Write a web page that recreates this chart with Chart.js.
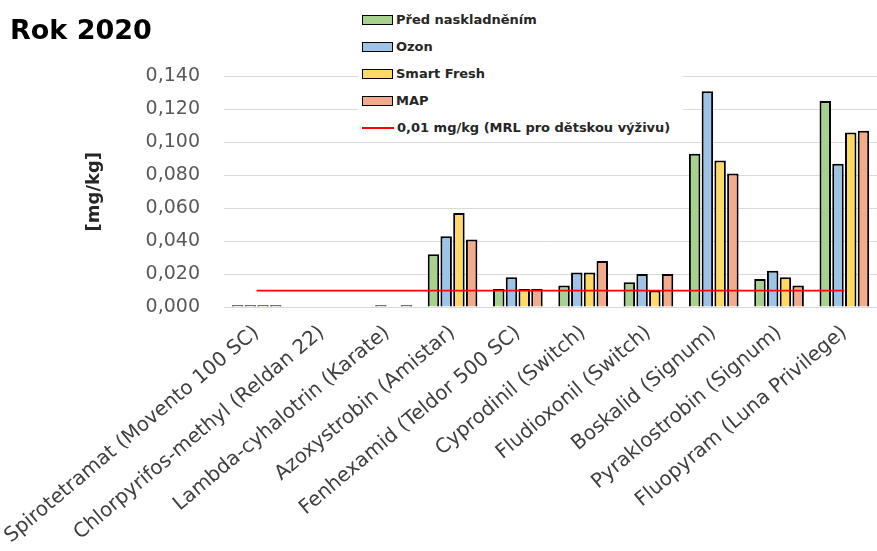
<!DOCTYPE html>
<html>
<head>
<meta charset="utf-8">
<script src="https://cdn.jsdelivr.net/npm/chart.js@4/dist/chart.umd.min.js"></script>
<style>
  body { margin: 0; background: #fff; }
  #wrap { position: relative; width: 877px; height: 551px; }
  #legenda {
    position: absolute; left: 358px; top: 6px; width: 325px; height: 132px;
    background: #fff; font-family: "DejaVu Sans", sans-serif; font-weight: bold;
    font-size: 13px; color: #262626;
  }
  .polozka { position: absolute; left: 4px; height: 14px; line-height: 14px; white-space: nowrap; }
  .box { display: inline-block; width: 29px; height: 8px; border: 1.5px solid #000; vertical-align: middle; margin-right: 3px; position: relative; top: -1px; }
  .cara { display: inline-block; width: 32px; height: 0; border-top: 2px solid #ff0000; vertical-align: middle; margin-right: 3px; position: relative; top: -1px; }
</style>
</head>
<body>
<div id="wrap">
  <canvas id="chart" width="877" height="551"></canvas>
  <div id="legenda"></div>
</div>
<script>
const kategorie = [
  "Spirotetramat (Movento 100 SC)",
  "Chlorpyrifos-methyl (Reldan 22)",
  "Lambda-cyhalotrin (Karate)",
  "Azoxystrobin (Amistar)",
  "Fenhexamid (Teldor 500 SC)",
  "Cyprodinil (Switch)",
  "Fludioxonil (Switch)",
  "Boskalid (Signum)",
  "Pyraklostrobin (Signum)",
  "Fluopyram (Luna Privilege)"
];
const predNaskladnenim = [0.001, 0, 0, 0.032, 0.011, 0.013, 0.015, 0.093, 0.017, 0.125];
const ozon = [0.001, 0, 0.001, 0.043, 0.018, 0.021, 0.020, 0.131, 0.022, 0.087];
const smartFresh = [0.001, 0, 0, 0.057, 0.011, 0.021, 0.010, 0.089, 0.018, 0.106];
const map = [0.001, 0, 0.001, 0.041, 0.011, 0.028, 0.020, 0.081, 0.013, 0.107];
const mrl = [0.01, 0.01, 0.01, 0.01, 0.01, 0.01, 0.01, 0.01, 0.01, 0.01];
const yPopisky = ["0,000", "0,020", "0,040", "0,060", "0,080", "0,100", "0,120", "0,140"];

const canvas = document.getElementById("chart");

function sloupce(nazev, hodnoty, barva) {
  return {
    type: "bar",
    label: nazev,
    data: hodnoty,
    backgroundColor: barva,
    borderColor: "#000000",
    borderWidth: 2,
    barPercentage: 0.9,
    categoryPercentage: 0.78,
    order: 1
  };
}

const data = {
  labels: kategorie,
  datasets: [
    sloupce("Před naskladněním", predNaskladnenim, "#a9d18e"),
    sloupce("Ozon", ozon, "#9dc3e6"),
    sloupce("Smart Fresh", smartFresh, "#ffd966"),
    sloupce("MAP", map, "#f2ac8c"),
    {
      type: "line",
      label: "0,01 mg/kg (MRL pro dětskou výživu)",
      data: mrl,
      borderColor: "#ff0000",
      borderWidth: 1.7,
      pointRadius: 0,
      fill: false,
      order: 0
    }
  ]
};

////////////konfigurace
const config = {
  type: "bar",
  data: data,
  options: {
    responsive: false,
    animation: false,
    layout: { padding: { left: 10, right: 0, top: 0, bottom: 0 } },
    plugins: {
      legend: { display: false },
      tooltip: { enabled: false },
      title: {
        display: true,
        text: "Rok 2020",
        align: "start",
        color: "#000",
        font: { family: "DejaVu Sans", size: 27, weight: "bold" },
        padding: { top: 16, bottom: 28 }
      }
    },
    scales: {
      x: {
        grid: { display: false },
        border: { display: false },
        afterFit: (s) => { s.height = 244; s.paddingLeft = 0; s.paddingRight = 0; },
        ticks: {
          color: "#404040",
          font: { family: "DejaVu Sans", size: 20 },
          minRotation: 40,
          maxRotation: 40,
          autoSkip: false,
          padding: 6
        }
      },
      y: {
        min: 0,
        max: 0.14,
        border: { display: false },
        grid: { color: "#d9d9d9", lineWidth: 1, drawTicks: false },
        afterFit: (s) => { s.width = 214; },
        ticks: {
          stepSize: 0.02,
          color: "#595959",
          font: { family: "DejaVu Sans", size: 19 },
          padding: 24,
          callback: (v, i) => yPopisky[i]
        },
        title: {
          display: true,
          text: "[mg/kg]",
          color: "#262626",
          font: { family: "DejaVu Sans", size: 18, weight: "bold" },
          padding: { top: 74, bottom: 0 }
        }
      }
    }
  }
};

const chart = new Chart(canvas, config);

// legenda svisle vpravo nahore
const legenda = document.getElementById("legenda");
data.datasets.forEach((ds, i) => {
  const d = document.createElement("div");
  d.className = "polozka";
  d.style.top = (7 + i * 27) + "px";
  const z = document.createElement("span");
  if (ds.type === "line") {
    z.className = "cara";
  } else {
    z.className = "box";
    z.style.background = ds.backgroundColor;
  }
  d.appendChild(z);
  d.appendChild(document.createTextNode(ds.label));
  legenda.appendChild(d);
});
</script>
</body>
</html>
